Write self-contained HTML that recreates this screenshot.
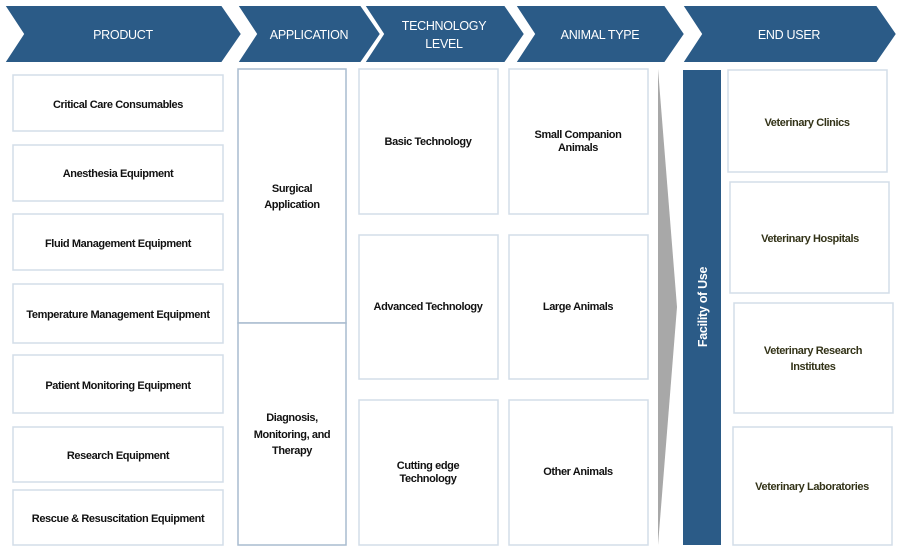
<!DOCTYPE html>
<html><head><style>
body{margin:0;background:#fff;}
svg{display:block;font-family:"Liberation Sans",sans-serif;}
.h{fill:#fff;font-size:12.5px;letter-spacing:-0.3px;}
.t{fill:#111;font-size:11px;font-weight:bold;letter-spacing:-0.4px;}
.b{fill:#fff;stroke:#d3dde8;stroke-width:1.5;}
.a{fill:#fff;stroke:#a9bccf;stroke-width:1.5;}
</style></head><body>
<svg width="900" height="547" viewBox="0 0 900 547">
<g fill="#2b5b87" stroke="#fff" stroke-width="2">
<polygon points="4,5 222,5 242,34 222,63 4,63 23,34"/>
<polygon points="237,5 361,5 381,34 361,63 237,63 256,34"/>
<polygon points="364,5 505,5 525,34 505,63 364,63 383,34"/>
<polygon points="515,5 665,5 685,34 665,63 515,63 534,34"/>
<polygon points="682,5 877,5 897,34 877,63 682,63 701,34"/>
</g>
<g class="h" text-anchor="middle">
<text x="123" y="39">PRODUCT</text>
<text x="309" y="39">APPLICATION</text>
<text x="444" y="30">TECHNOLOGY</text>
<text x="444" y="48">LEVEL</text>
<text x="600" y="39">ANIMAL TYPE</text>
<text x="789" y="39">END USER</text>
</g>
<g>
<rect class="b" x="13" y="75" width="210" height="56"/>
<rect class="b" x="13" y="145" width="210" height="56"/>
<rect class="b" x="13" y="214" width="210" height="56"/>
<rect class="b" x="13" y="284" width="210" height="59"/>
<rect class="b" x="13" y="355" width="210" height="58"/>
<rect class="b" x="13" y="427" width="210" height="55"/>
<rect class="b" x="13" y="490" width="210" height="55"/>
<rect class="a" x="238" y="69" width="108" height="254"/>
<rect class="a" x="238" y="323" width="108" height="222"/>
<rect class="b" x="359" y="69" width="139" height="145"/>
<rect class="b" x="359" y="235" width="139" height="144"/>
<rect class="b" x="359" y="400" width="139" height="145"/>
<rect class="b" x="509" y="69" width="139" height="145"/>
<rect class="b" x="509" y="235" width="139" height="144"/>
<rect class="b" x="509" y="400" width="139" height="145"/>
<rect class="b" x="728" y="70" width="159" height="102"/>
<rect class="b" x="730" y="182" width="159" height="111"/>
<rect class="b" x="734" y="303" width="159" height="110"/>
<rect class="b" x="733" y="427" width="159" height="118"/>
</g>
<polygon points="658,69 677,307 658,545" fill="#a8a8a8"/>
<rect x="683" y="70" width="38" height="475" fill="#2b5b87"/>
<text class="h" font-size="11" font-weight="bold" transform="translate(707,307) rotate(-90)" text-anchor="middle">Facility of Use</text>
<g class="t" text-anchor="middle">
<text x="118" y="108">Critical Care Consumables</text>
<text x="118" y="177">Anesthesia Equipment</text>
<text x="118" y="247">Fluid Management Equipment</text>
<text x="118" y="318">Temperature Management Equipment</text>
<text x="118" y="389">Patient Monitoring Equipment</text>
<text x="118" y="459">Research Equipment</text>
<text x="118" y="522">Rescue &amp; Resuscitation Equipment</text>
<text x="292" y="192">Surgical</text>
<text x="292" y="208">Application</text>
<text x="292" y="421">Diagnosis,</text>
<text x="292" y="438">Monitoring, and</text>
<text x="292" y="454">Therapy</text>
<text x="428" y="145">Basic Technology</text>
<text x="428" y="310">Advanced Technology</text>
<text x="428" y="469">Cutting edge</text>
<text x="428" y="482">Technology</text>
<text x="578" y="138">Small Companion</text>
<text x="578" y="151">Animals</text>
<text x="578" y="310">Large Animals</text>
<text x="578" y="475">Other Animals</text>
<g fill="#333318">
<text x="807" y="126">Veterinary Clinics</text>
<text x="810" y="242">Veterinary Hospitals</text>
<text x="813" y="354">Veterinary Research</text>
<text x="813" y="370">Institutes</text>
<text x="812" y="490">Veterinary Laboratories</text>
</g>
</g>
</svg>
</body></html>
